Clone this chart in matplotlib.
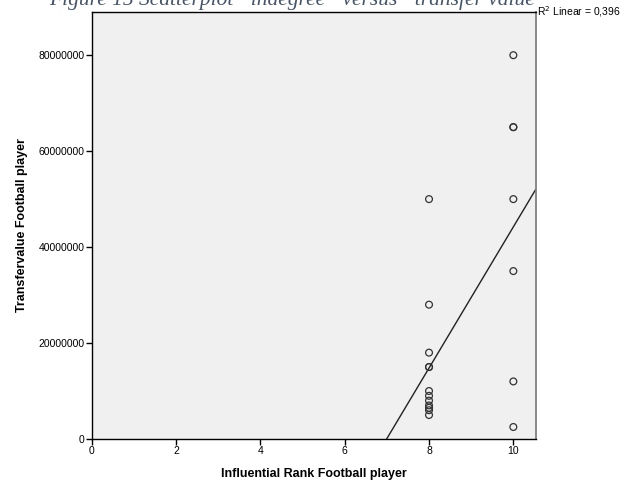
import numpy as np
import matplotlib
matplotlib.use("Agg")
import matplotlib.pyplot as plt
from matplotlib.ticker import FuncFormatter

plt.rcParams["font.family"] = ["Liberation Sans", "DejaVu Sans"]

# Data
rank = [8, 8, 8, 8, 8, 8, 8, 8, 8, 8, 8, 8,
        10, 10, 10, 10, 10, 10, 10]
transfer = [50e6, 28e6, 18e6, 15e6, 15e6, 10e6, 9e6, 8e6, 7e6, 6.5e6, 6e6, 5e6,
            80e6, 65e6, 65e6, 50e6, 35e6, 12e6, 2.5e6]
x_ticks = [0, 2, 4, 6, 8, 10]
y_ticks = [0, 20e6, 40e6, 60e6, 80e6]
r2_label = "R$^2$ Linear = 0,396"

fig = plt.figure(figsize=(6.28, 4.82), dpi=100)
ax = fig.add_axes([91.7 / 628, 43 / 482, 444 / 628, 427 / 482])
ax.set_facecolor("#f0f0f0")

ax.scatter(rank, transfer, s=24, facecolors="none", edgecolors="#333333",
           linewidths=0.9, zorder=3)

# linear fit line
b, a = np.polyfit(rank, transfer, 1)
xs = np.array([0, 10.53])
ax.plot(xs, a + b * xs, color="#222222", lw=1.0, zorder=2)

ax.set_xlim(0, 10.53)
ax.set_ylim(0, 89e6)
ax.set_xticks(x_ticks)
ax.set_yticks(y_ticks)
ax.yaxis.set_major_formatter(FuncFormatter(lambda v, p: "%d" % v))
ax.tick_params(direction="out", length=4, width=1, labelsize=7.5,
               colors="black", pad=1)

for s in ["left", "bottom", "top"]:
    ax.spines[s].set_color("black")
    ax.spines[s].set_linewidth(1)
ax.spines["right"].set_color("#808080")
ax.spines["right"].set_linewidth(1.3)

ax.set_xlabel("Influential Rank Football player", fontsize=9, fontweight="bold",
              labelpad=9)
ax.set_ylabel("Transfervalue Football player", fontsize=9, fontweight="bold",
              labelpad=8)

fig.text(537 / 628, 1 - 12 / 482, r2_label, fontsize=7.5, va="center", ha="left")

# title is partly cut off at the top edge, as in the source
fig.text(298 / 628, 1 - 5 / 482,
         "Figure 15 Scatterplot \u201cindegree\u201d versus \u201ctransfer value\u201d",
         fontsize=15.5, family="Liberation Serif", style="italic",
         color="#44546a", ha="center", va="baseline")

fig.savefig("out.png", dpi=100)
